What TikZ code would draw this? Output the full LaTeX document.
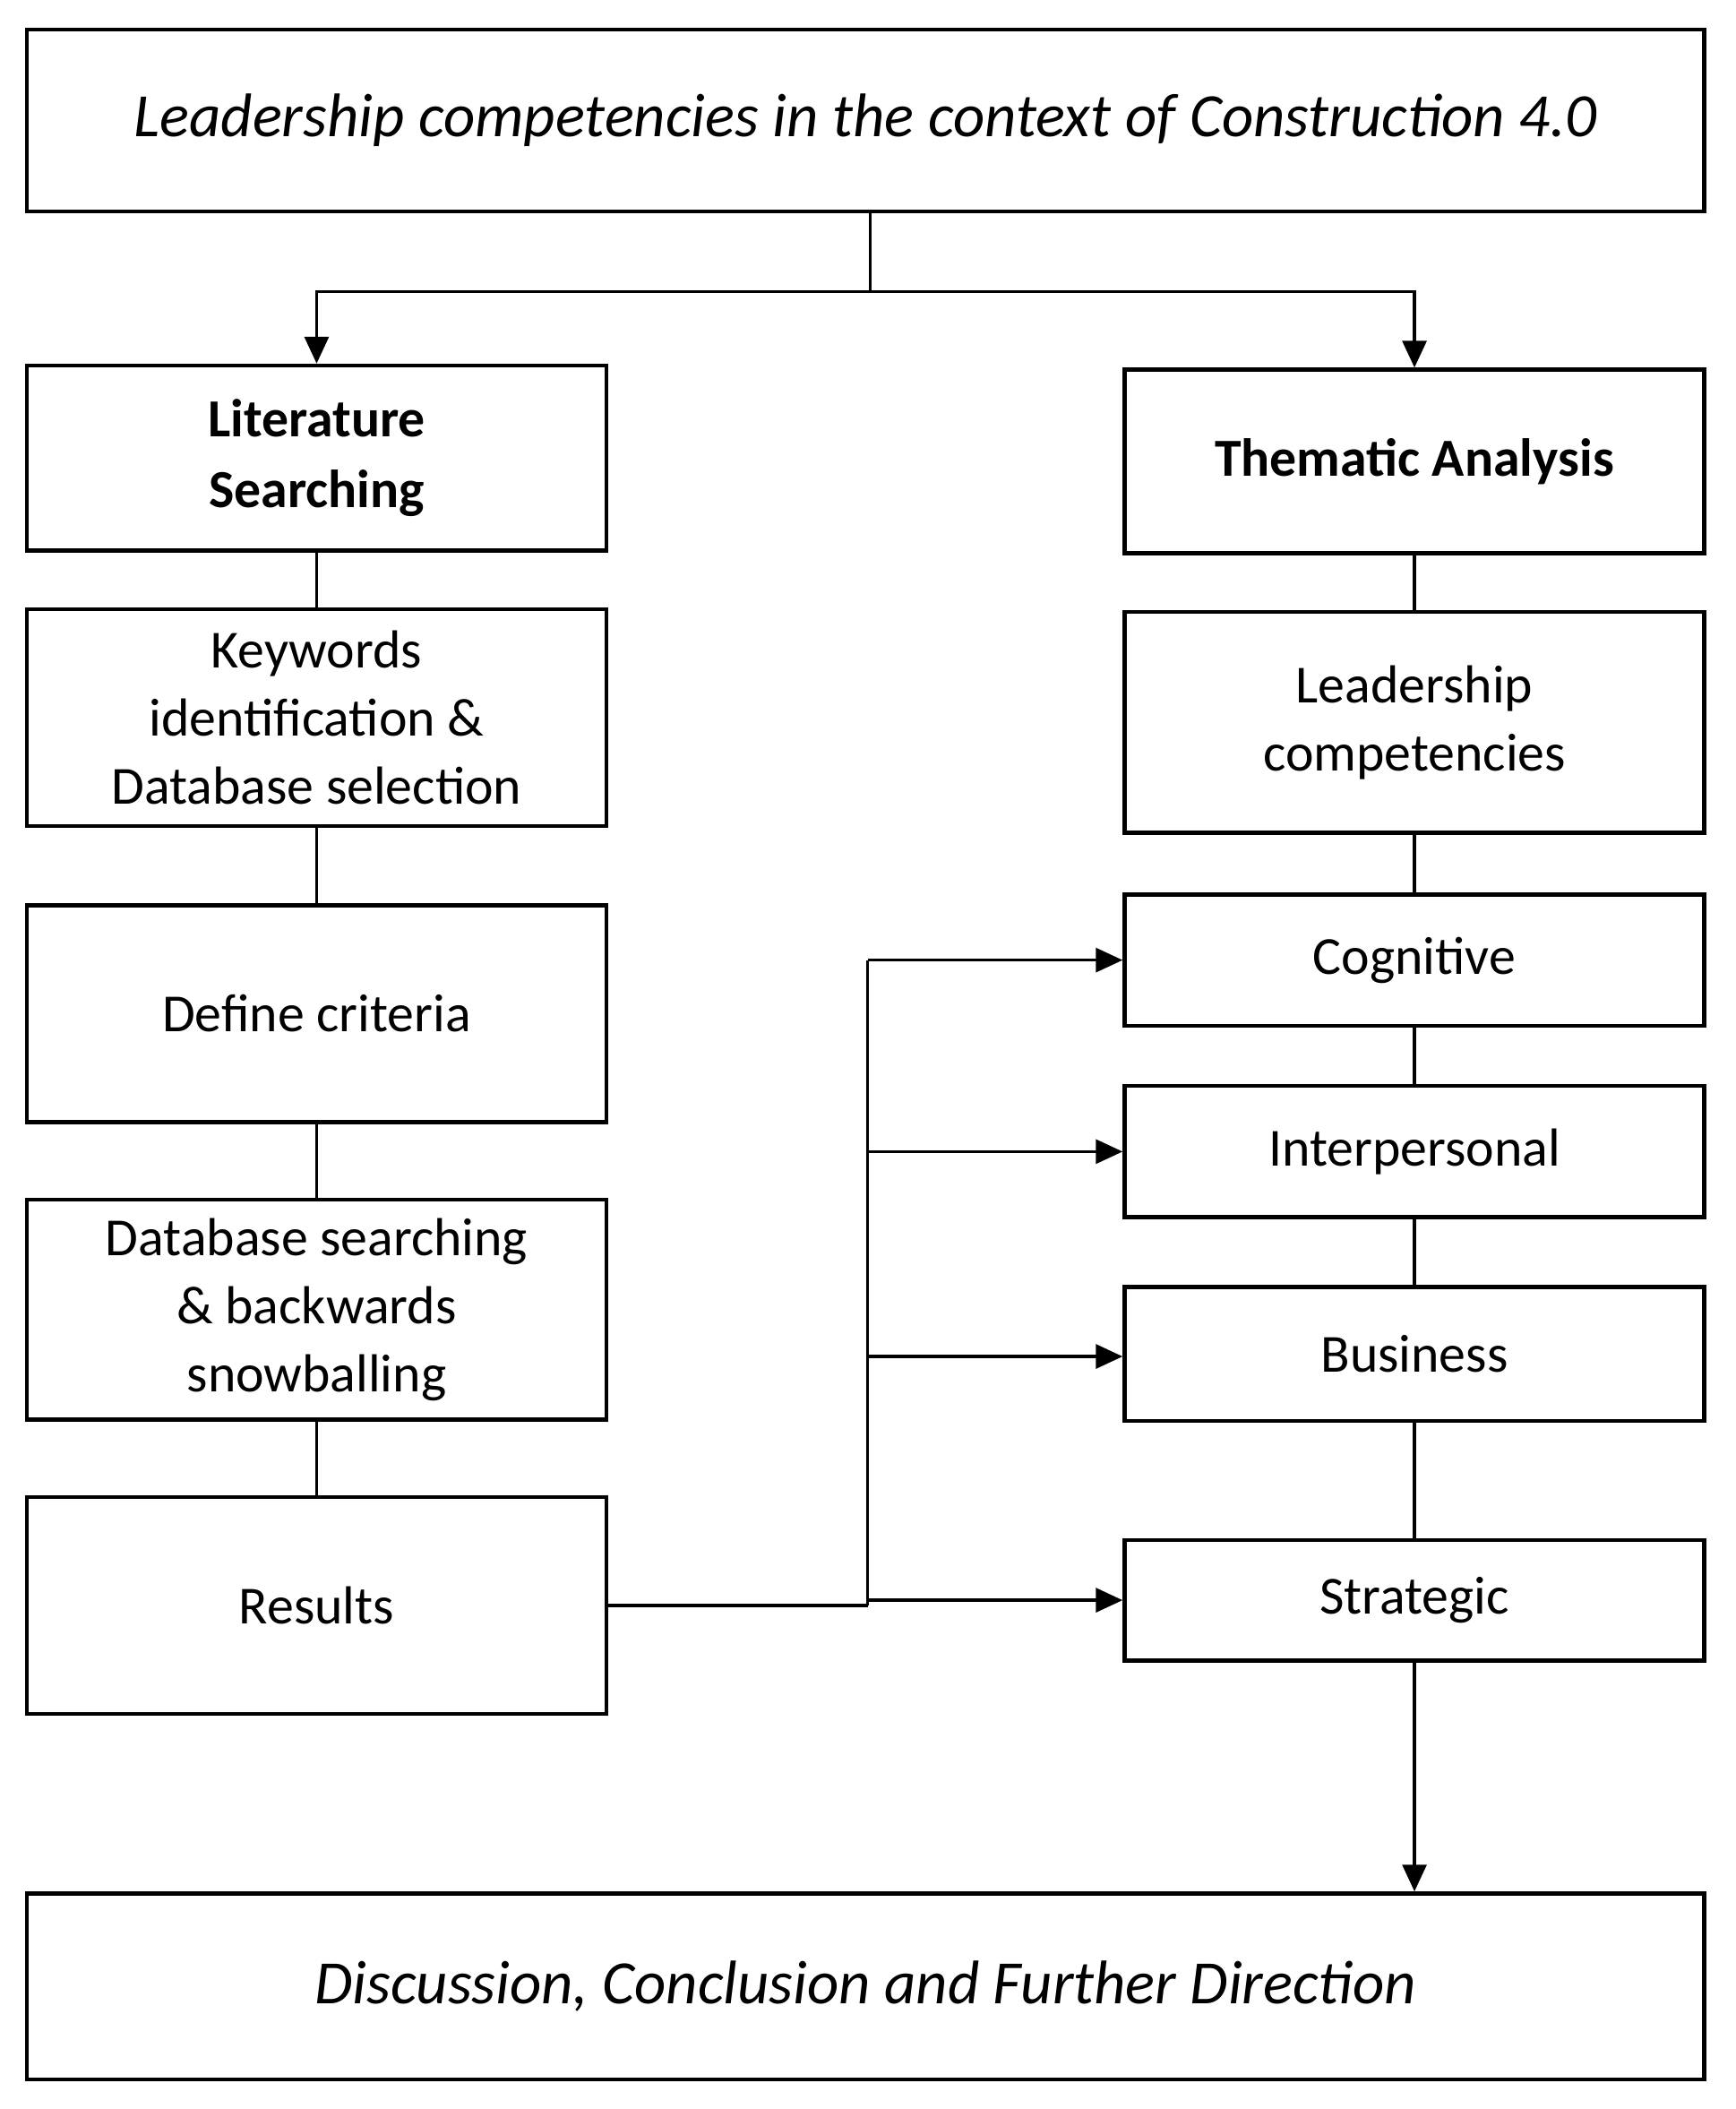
\documentclass[tikz,border=0pt]{standalone}
\usepackage{fontspec}
\setmainfont{Carlito}
\usetikzlibrary{arrows.meta}
\begin{document}
\begin{tikzpicture}[x=0.5pt,y=-0.5pt,
  box/.style={draw,line width=1.5pt,minimum width=216.5pt,align=center,inner sep=0pt,
    font=\fontsize{20}{25.5}\selectfont},
  ln/.style={line width=1.1pt},
  arr/.style={ln,-{Triangle[length=10pt,width=9pt]}}]
\useasboundingbox (0,0) rectangle (1296,1575);
\node[box,minimum width=626.5pt,minimum height=68pt,font=\fontsize{23}{28}\selectfont\itshape] (top) at (646.5,90) {Leadership competencies in the context of Construction 4.0};
\node[box,minimum height=69pt,font=\fontsize{20}{26.5}\selectfont\bfseries] (lit) at (236.5,342) {Literature\\Searching};
\node[box,minimum height=81pt] (kw) at (236.5,536) {Keywords\\identification \&\\Database selection};
\node[box,minimum height=81pt] (dc) at (236.5,757) {Define criteria};
\node[box,minimum height=82pt] (ds) at (236.5,978) {Database searching\\\& backwards\\snowballing};
\node[box,minimum height=81pt] (res) at (236.5,1199) {Results};
\node[box,minimum height=68.5pt,font=\fontsize{20}{26}\selectfont\bfseries] (th) at (1056.5,344.5) {Thematic Analysis};
\node[box,minimum height=82.5pt] (lc) at (1056.5,539.5) {Leadership\\competencies};
\node[box,minimum height=49pt] (cog) at (1056.5,717) {Cognitive};
\node[box,minimum height=49pt] (int) at (1056.5,860) {Interpersonal};
\node[box,minimum height=50pt] (bus) at (1056.5,1011) {Business};
\node[box,minimum height=45pt] (str) at (1056.5,1195) {Strategic};
\node[box,minimum width=626.5pt,minimum height=69.5pt,font=\fontsize{23}{28}\selectfont\itshape] (bot) at (646.5,1483.5) {Discussion, Conclusion and Further Direction};
\coordinate (j) at (650,218);
\draw[ln] (top.south -| j) -- (j);
\draw[arr] (j) -| (lit.north);
\draw[arr] (j) -| (th.north);
\draw[ln] (lit) -- (kw) (kw) -- (dc) (dc) -- (ds) (ds) -- (res);
\draw[ln] (th) -- (lc) (lc) -- (cog) (cog) -- (int) (int) -- (bus) (bus) -- (str);
\draw[arr] (str) -- (bot.north -| str);
\coordinate (b) at (648,1199);
\draw[ln] (res.east) -- (b);
\draw[ln] (b) -- (648,717);
\draw[arr] (648,717) -- (cog.west);
\draw[arr] (648,860) -- (int.west);
\draw[arr] (648,1013) -- (bus.west |- 0,1013);
\draw[arr] (648,1195) -- (str.west);
\end{tikzpicture}
\end{document}
